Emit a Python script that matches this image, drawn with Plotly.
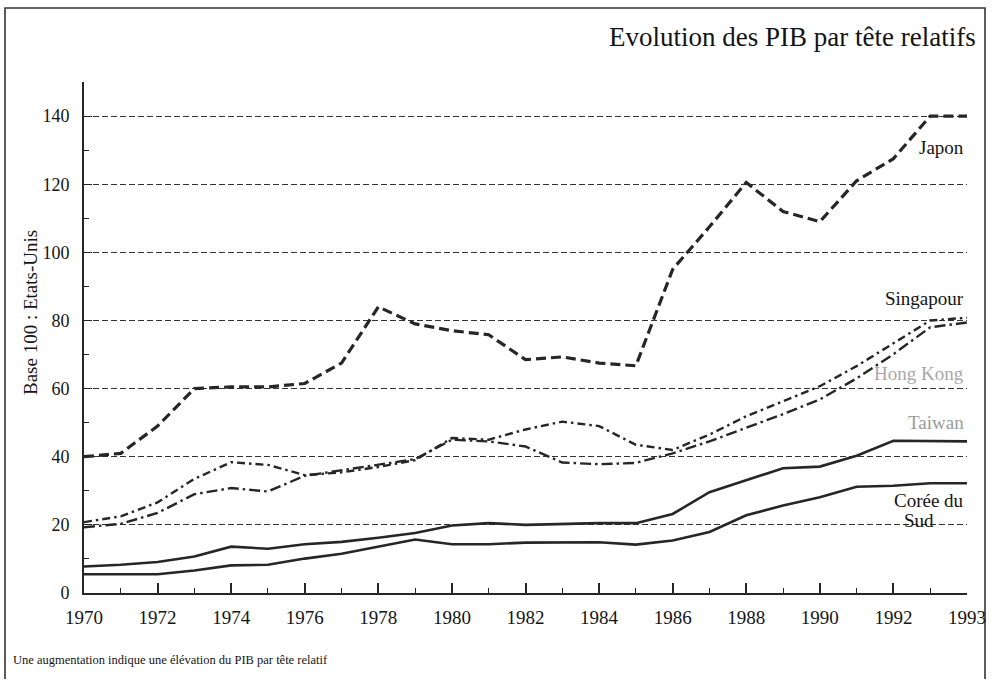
import plotly.graph_objects as go

# ---- data ----
years = [1970, 1971, 1972, 1973, 1974, 1975, 1976, 1977, 1978, 1979, 1980, 1981,
         1982, 1983, 1984, 1985, 1986, 1987, 1988, 1989, 1990, 1991, 1992, 1993, 1994]

japon = [40, 41, 49, 60, 60.5, 60.5, 61.5, 67.5, 84, 79, 77, 75.8,
         68.5, 69.3, 67.5, 66.7, 95, 107.5, 120.5, 112, 109, 121, 127.5, 140, 140]

singapour = [20.8, 22.5, 26.6, 33.5, 38.4, 37.6, 34.6, 35.4, 37, 39, 45.5, 45,
             48, 50.3, 49, 43.5, 42, 46.5, 51.9, 56.4, 60.7, 66.6, 73.3, 80, 80.8]

hong_kong = [19.3, 20.3, 23.5, 29, 30.8, 29.8, 34.4, 36, 37.5, 39.3, 45, 44.5,
             43, 38.3, 37.8, 38.2, 41, 44.5, 48.5, 52.5, 56.8, 63, 70.1, 78, 79.4]

taiwan = [7.8, 8.3, 9.1, 10.7, 13.6, 13, 14.3, 15, 16.2, 17.6, 19.8, 20.5,
          20, 20.3, 20.5, 20.5, 23.2, 29.6, 33, 36.6, 37.1, 40.3, 44.7, 44.5, 44.5]

coree = [5.5, 5.5, 5.5, 6.6, 8.1, 8.3, 10.1, 11.5, 13.7, 15.7, 14.3, 14.3,
         14.8, 14.9, 14.9, 14.2, 15.4, 17.9, 22.8, 25.7, 28.1, 31.2, 31.5, 32.2, 32.2]

x_tick_vals = [1970, 1972, 1974, 1976, 1978, 1980, 1982, 1984, 1986, 1988, 1990, 1992, 1994]
x_tick_text = ["1970", "1972", "1974", "1976", "1978", "1980", "1982", "1984",
               "1986", "1988", "1990", "1992", "1993"]
y_tick_vals = [0, 20, 40, 60, 80, 100, 120, 140]

FONT = "Liberation Serif, Times New Roman, serif"
INK = "#262626"
TXT = "#141414"

fig = go.Figure()

def add_line(vals, name, dash, width):
    fig.add_trace(go.Scatter(x=years, y=vals, mode="lines", name=name,
                             line=dict(color=INK, width=width, dash=dash),
                             showlegend=False, hoverinfo="skip"))

add_line(coree, "Corée du Sud", "solid", 2.6)
add_line(taiwan, "Taiwan", "solid", 2.6)
add_line(hong_kong, "Hong Kong", "11px,4px,2.5px,4px", 2.4)
add_line(singapour, "Singapour", "8px,4px,2.5px,4px", 2.4)
add_line(japon, "Japon", "10px,5px", 3.2)

# plot area geometry (pixels) for paper-coordinate helpers
L, R, T, B, W, H = 84, 26, 82, 87, 993, 680
pw, ph = W - L - R, H - T - B

def px_x(px):
    return (px - L) / pw

def px_y(py):
    return (H - B - py) / ph

fig.update_layout(
    width=W, height=H,
    margin=dict(l=L, r=R, t=T, b=B, pad=0, autoexpand=False),
    paper_bgcolor="white", plot_bgcolor="white",
    font=dict(family=FONT, color=TXT, size=18),
    xaxis=dict(range=[1970, 1994], tickmode="array", tickvals=x_tick_vals,
               ticktext=x_tick_text, ticks="inside", ticklen=10, tickwidth=1.5,
               tickcolor=INK, showline=True, linecolor=INK, linewidth=2,
               showgrid=False, zeroline=False, ticklabelstandoff=6,
               tickfont=dict(family=FONT, size=19, color=TXT),
               minor=dict(tickmode="linear", tick0=1970, dtick=1, ticks="inside",
                          ticklen=5, tickwidth=1.3, tickcolor=INK, showgrid=False)),
    yaxis=dict(range=[0, 150], tickmode="array", tickvals=y_tick_vals,
               ticks="inside", ticklen=8, tickwidth=1.3, tickcolor=INK,
               showline=True, linecolor=INK, linewidth=2,
               showgrid=True, gridcolor="#333333", gridwidth=1, griddash="6px,3px",
               zeroline=False, ticklabelstandoff=9,
               tickfont=dict(family=FONT, size=18, color=TXT),
               minor=dict(tickmode="linear", tick0=0, dtick=10, ticks="inside",
                          ticklen=5, tickwidth=1.3, tickcolor=INK, showgrid=False)),
)

# frame around the figure (left, top, right sides)
fl, fr, ft, fb = px_x(5), px_x(985), px_y(8), px_y(679)
fig.add_shape(type="path", xref="paper", yref="paper", layer="below",
              path=f"M {fl} {fb} L {fl} {ft} L {fr} {ft} L {fr} {fb}",
              line=dict(color="#333333", width=1.6))

ann = []
# title
ann.append(dict(text="Evolution des PIB par tête relatifs", xref="paper", yref="paper",
                x=px_x(978), y=px_y(37), xanchor="right", yanchor="middle",
                showarrow=False, font=dict(family=FONT, size=27, color=TXT)))
# footer
ann.append(dict(text="Une augmentation indique une élévation du PIB par tête relatif",
                xref="paper", yref="paper", x=px_x(11), y=px_y(660),
                xanchor="left", yanchor="middle", showarrow=False,
                font=dict(family=FONT, size=12.5, color=TXT)))
# y axis title
ann.append(dict(text="Base 100 : Etats-Unis", xref="paper", yref="paper",
                x=px_x(30), y=px_y(313), xanchor="center", yanchor="middle",
                textangle=-90, showarrow=False,
                font=dict(family=FONT, size=19, color=TXT)))

# series labels
def label(text, py, color=TXT, px_right=966, anchor="right"):
    ann.append(dict(text=text, xref="paper", yref="paper", x=px_x(px_right), y=px_y(py),
                    xanchor=anchor, yanchor="middle", showarrow=False,
                    font=dict(family=FONT, size=19, color=color)))

label("Japon", 147)
label("Singapour", 298)
label("Hong Kong", 373, color="#a8a8a8")
label("Taiwan", 422, color="#9a9a9a")
label("Corée du", 500)
label("Sud", 520, px_right=902, anchor="left")

fig.update_layout(annotations=ann)

fig.write_html("out.html",
               config={"displayModeBar": False},
               post_script="document.body.style.margin='0';document.body.style.overflow='hidden';")
